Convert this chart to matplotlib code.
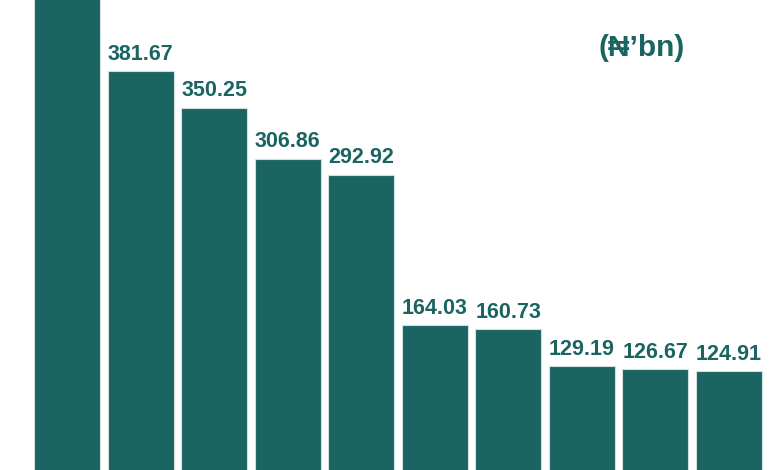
import matplotlib
matplotlib.use("Agg")
import matplotlib.pyplot as plt

values = [470.0, 381.67, 350.25, 306.86, 292.92, 164.03, 160.73, 129.19, 126.67, 124.91]
labels = ["", "381.67", "350.25", "306.86", "292.92", "164.03", "160.73", "129.19", "126.67", "124.91"]
unit_label = "(₦’bn)"

color = "#1a6462"
plt.rcParams['font.family'] = ['Liberation Sans', 'DejaVu Sans']

fig = plt.figure(figsize=(7.8, 4.7), dpi=100)
ax = fig.add_axes([0, 0, 1, 1])
x = list(range(len(values)))
ax.bar(x, values, width=0.897, color=color, edgecolor="#cfe0de", linewidth=0.8)
for xi, v, lab in zip(x, values, labels):
    if lab:
        ax.text(xi, v + 5.5, lab, ha="center", va="bottom", fontsize=15.5,
                fontweight="bold", color=color)
ax.text(0.823, 0.897, unit_label, transform=ax.transAxes, ha="center", va="center",
        fontsize=21.5, fontweight="bold", color=color)
ax.set_xlim(-0.911, 9.693)
ax.set_ylim(40.2, 442.6)
ax.axis("off")
fig.savefig("out.png", dpi=100)
